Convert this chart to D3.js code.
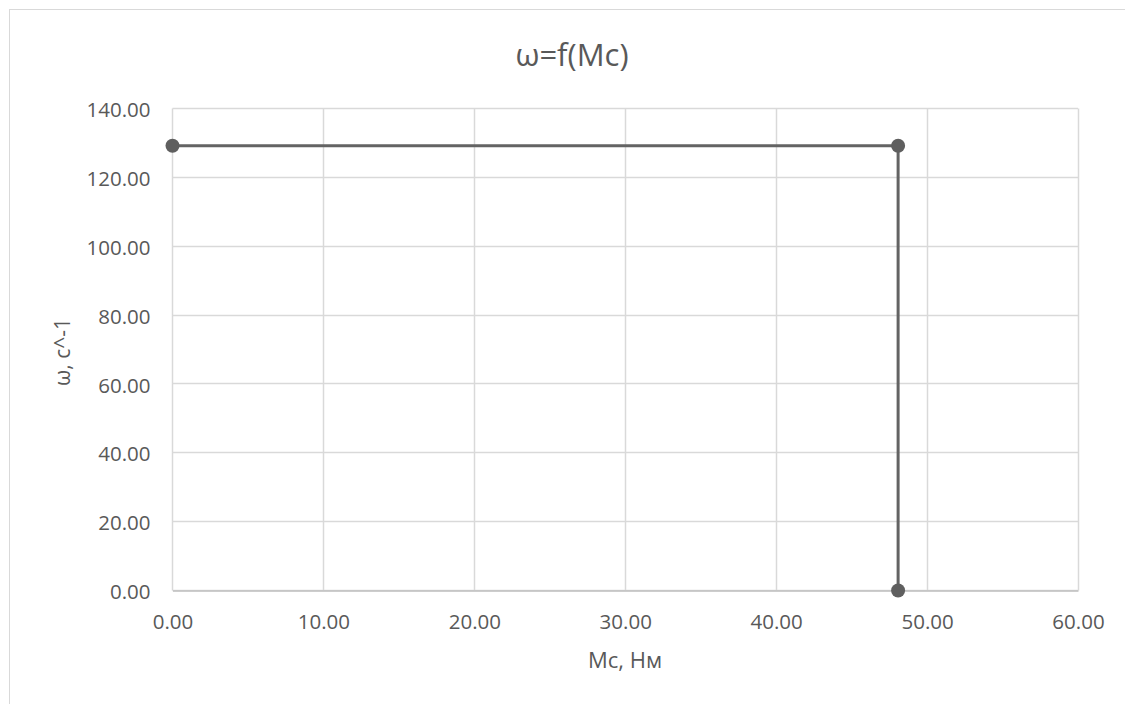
<!DOCTYPE html>
<html>
<head>
<meta charset="utf-8">
<script src="https://cdn.jsdelivr.net/npm/d3@7"></script>
<style>
  html, body { margin: 0; padding: 0; background: #fff; overflow: hidden; }
  text { font-family: "Open Sans", "Noto Sans", sans-serif; fill: #595959; }
</style>
</head>
<body>
<div id="chart"></div>
<script>
// data
var mcValues = [0, 48.08, 48.08];
var omegaValues = [129.2, 129.2, 0];
var xTicks = [0, 10, 20, 30, 40, 50, 60];
var yTicks = [0, 20, 40, 60, 80, 100, 120, 140];
var chartTitle = "ω=f(Mc)";
var xTitle = "Mc, Нм";
var yTitle = "ω, с^-1";

var W = 1125, H = 704;
var margin = {top: 108.5, right: 47, bottom: 113.5, left: 172.5};
var width = W - margin.left - margin.right,
    height = H - margin.top - margin.bottom;

var points = mcValues.map(function (d, i) {
    return {x: d, y: omegaValues[i]};
});

var svg = d3.select("#chart")
        .append("svg")
        .attr("width", W)
        .attr("height", H);

// chart area frame (runs off the right and bottom edges)
svg.append("rect")
        .attr("x", 9.5)
        .attr("y", 9.5)
        .attr("width", 1300)
        .attr("height", 900)
        .style("fill", "none")
        .style("stroke", "#d9d9d9")
        .style("stroke-width", "1px");

var x = d3.scaleLinear().domain([0, 60]).range([0, width]);
var y = d3.scaleLinear().domain([0, 140]).range([height, 0]);

var canvas = svg.append("g")
        .attr("transform", "translate(" + margin.left + "," + margin.top + ")");

// gridlines
canvas.append("g")
        .attr("class", "grid-x")
        .selectAll("line")
        .data(xTicks)
        .enter()
        .append("line")
        .attr("x1", function (d) { return Math.round(x(d)); })
        .attr("x2", function (d) { return Math.round(x(d)); })
        .attr("y1", 0)
        .attr("y2", height)
        .style("stroke", "#d9d9d9")
        .style("stroke-width", "1.5px");

canvas.append("g")
        .attr("class", "grid-y")
        .selectAll("line")
        .data(yTicks)
        .enter()
        .append("line")
        .attr("x1", 0)
        .attr("x2", width)
        .attr("y1", function (d) { return Math.round(y(d)); })
        .attr("y2", function (d) { return Math.round(y(d)); })
        .style("stroke", "#d9d9d9")
        .style("stroke-width", "1.5px");

// axes
var xAxis = canvas.append("g")
        .attr("class", "axis-x")
        .attr("transform", "translate(0," + Math.round(height) + ")")
        .call(d3.axisBottom(x)
                .tickValues(xTicks)
                .tickFormat(d3.format(".2f"))
                .tickSize(0)
                .tickPadding(24));

var yAxis = canvas.append("g")
        .attr("class", "axis-y")
        .call(d3.axisLeft(y)
                .tickValues(yTicks)
                .tickFormat(d3.format(".2f"))
                .tickSize(0)
                .tickPadding(22));

yAxis.select(".domain").remove();
yAxis.selectAll("text").attr("dy", "0.4em");
xAxis.select(".domain")
        .style("stroke", "#bfbfbf")
        .style("stroke-width", "1.5px");

svg.selectAll(".axis-x text, .axis-y text")
        .style("font-family", "'Open Sans', sans-serif")
        .style("font-size", "20.5px")
        .style("fill", "#595959");

// series
var line = d3.line()
        .x(function (d) { return x(d.x); })
        .y(function (d) { return y(d.y); });

canvas.append("path")
        .datum(points)
        .attr("d", line)
        .style("fill", "none")
        .style("stroke", "#636363")
        .style("stroke-width", "3px");

canvas.append("g")
        .selectAll("circle")
        .data(points)
        .enter()
        .append("circle")
        .attr("cx", function (d) { return x(d.x); })
        .attr("cy", function (d) { return y(d.y); })
        .attr("r", 7)
        .style("fill", "#5f5f5f");

// titles
svg.append("text")
        .attr("x", 572)
        .attr("y", 66)
        .attr("text-anchor", "middle")
        .style("font-size", "31px")
        .text(chartTitle);

svg.append("text")
        .attr("x", 625)
        .attr("y", 668)
        .attr("text-anchor", "middle")
        .style("font-size", "22px")
        .text(xTitle);

svg.append("text")
        .attr("transform", "translate(70,352) rotate(-90)")
        .attr("text-anchor", "middle")
        .style("font-size", "21px")
        .text(yTitle);
</script>
</body>
</html>
